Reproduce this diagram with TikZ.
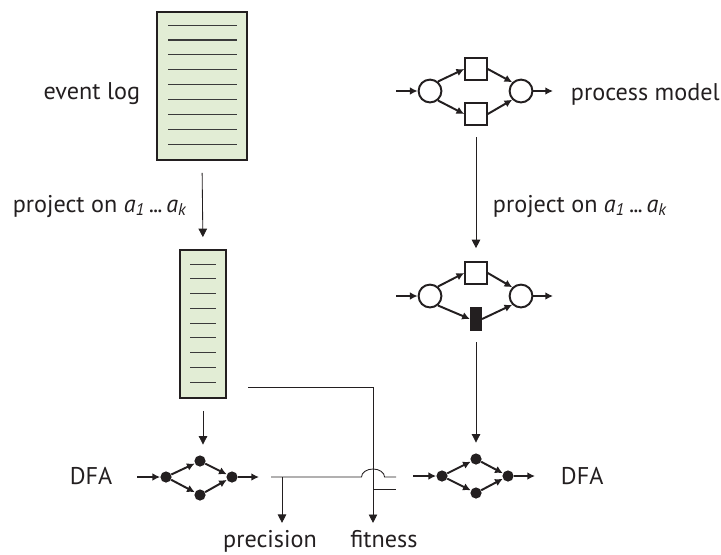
\documentclass[tikz,border=0pt]{standalone}
\usepackage{fontspec}
\setmainfont{PT Sans}
\usetikzlibrary{arrows.meta, calc, positioning}
\definecolor{cink}{HTML}{231F20}
\definecolor{clog}{HTML}{E2EDD5}
\definecolor{crule}{HTML}{3A3A3A}
\newcommand{\projtext}{project on
  \textit{a}\textsubscript{\textit{1}}\hspace{0.16em}.\kern-0.04em.\kern-0.04em.\hspace{0.16em}\textit{a}\textsubscript{\textit{k}}}

\begin{document}
\begin{tikzpicture}[
  x=0.025cm, y=-0.025cm,
  logbox/.style={
    rectangle, draw=cink, fill=clog, line width=1.3pt, inner sep=0pt
  },
  logline/.style={crule, line width=0.8pt},
  place/.style={
    circle, draw=cink, fill=white, line width=1.4pt,
    minimum size=0.57cm, inner sep=0pt
  },
  trans/.style={
    rectangle, draw=cink, fill=white, line width=1.4pt,
    minimum width=0.54cm, minimum height=0.56cm, inner sep=0pt
  },
  silent/.style={
    rectangle, draw=cink, fill=cink, line width=1pt,
    minimum width=0.27cm, minimum height=0.57cm, inner sep=0pt
  },
  state/.style={
    circle, fill=cink, minimum size=0.28cm, inner sep=0pt
  },
  netarrow/.style={
    -{Latex[length=5.5pt, width=5.5pt]}, draw=cink, line width=1.4pt
  },
  flowarrow/.style={
    -{Triangle[length=6pt, width=6pt]}, draw=cink, line width=0.6pt
  },
  thinline/.style={draw=cink, line width=0.6pt},
  lbl/.style={cink, font=\fontsize{17.2}{20}\selectfont, anchor=base}
]

\useasboundingbox (0,0) rectangle (721,554);

% ============================================================
% Left column: event log and its projection
% ============================================================
\node[logbox, minimum width=2.25cm, minimum height=3.7cm] (log) at (202,86) {};
\foreach \i in {1,...,9} {
  \draw[logline] ($(log.north west)+(12,14.875*\i-0.875)$)
    -- ($(log.north east)+(-11,14.875*\i-0.875)$);
}
\node[lbl, anchor=base east] (loglbl) at (145,99) {event log};

\node[logbox, minimum width=1.15cm, minimum height=3.7cm] (slog) at (203,324) {};
\foreach \i in {1,...,9} {
  \draw[logline] ($(slog.north west)+(11,14.75*\i+0.25)$)
    -- ($(slog.north east)+(-11,14.75*\i+0.25)$);
}

\draw[flowarrow, shorten <=8.5pt, shorten >=8.5pt] (log.south) -- (slog.north);
\node[lbl, anchor=base east] (lproj) at (192,212) {\projtext};

% ============================================================
% Right column: process model and its projection
% ============================================================
\node[place] (p1) at (430,91) {};
\node[trans] (t1) at (476,69) {};
\node[trans] (t2) at (476,114) {};
\node[place] (p2) at (521,91) {};
\coordinate (pin) at (396,91);
\coordinate (pout) at (553,91);
\draw[netarrow] (pin) -- (p1);
\draw[netarrow] (p1.50) -- (t1.west);
\draw[netarrow] (p1.-50) -- (t2.west);
\draw[netarrow] (t1.east) -- (p2.135);
\draw[netarrow] (t2.east) -- (p2.-135);
\draw[netarrow] (p2) -- (pout);
\node[lbl, anchor=base west] (modlbl) at (566,100) {process model};

\node[place] (q1) at (430,296) {};
\node[trans] (u1) at (476,273) {};
\node[silent] (u2) at (476,319) {};
\node[place] (q2) at (521,296) {};
\coordinate (qin) at (396,296);
\coordinate (qout) at (553,296);
\draw[netarrow] (qin) -- (q1);
\draw[netarrow] (q1.50) -- (u1.west);
\draw[netarrow] (q1.-50) -- (u2.west);
\draw[netarrow] (u1.east) -- (q2.135);
\draw[netarrow] (u2.east) -- (q2.-135);
\draw[netarrow] (q2) -- (qout);

\draw[flowarrow, shorten <=8pt, shorten >=9pt] (t2.south) -- (u1.north);
\node[lbl, anchor=base west] (rproj) at (488,212) {\projtext};

% ============================================================
% Bottom band: the two DFAs
% ============================================================
\node[state] (a0) at (166,477) {};
\node[state] (a1) at (200,461) {};
\node[state] (a2) at (200,495) {};
\node[state] (a3) at (232,477) {};
\coordinate (ain) at (137,477);
\coordinate (aout) at (259,477);
\draw[netarrow] (ain) -- (a0);
\draw[netarrow] (a0) -- (a1);
\draw[netarrow] (a0) -- (a2);
\draw[netarrow] (a1) -- (a3);
\draw[netarrow] (a2) -- (a3);
\draw[netarrow] (a3) -- (aout);
\node[lbl] (ldfa) at (91,484) {DFA};

\node[state] (b0) at (442,476) {};
\node[state] (b1) at (476,459) {};
\node[state] (b2) at (476,493) {};
\node[state] (b3) at (508,476) {};
\coordinate (bin) at (413,476);
\coordinate (bout) at (535,476);
\draw[netarrow] (bin) -- (b0);
\draw[netarrow] (b0) -- (b1);
\draw[netarrow] (b0) -- (b2);
\draw[netarrow] (b1) -- (b3);
\draw[netarrow] (b2) -- (b3);
\draw[netarrow] (b3) -- (bout);
\node[lbl, anchor=base west] (rdfa) at (556,484) {DFA};

\draw[flowarrow, shorten <=8.5pt, shorten >=7.5pt] (slog.south) -- (slog.south |- a1.north);
\draw[flowarrow, shorten <=8pt, shorten >=7.5pt] (u2.south) -- (b1.north);

% ============================================================
% Comparison: precision and fitness
% ============================================================
\node[lbl] (prec) at (270,547) {precision};
\node[lbl] (fit) at (384,547) {fitness};

\coordinate (fitstart) at (248,387);
\coordinate (fitturn) at (373,387);
\coordinate (fitbranch) at (373,489);
\coordinate (fitend) at (396,489);
\draw[flowarrow] (fitstart) -- (fitturn) -- ($(fit.north -| fitturn)+(0,-2)$);
\draw[thinline] (fitbranch) -- (fitend);

\coordinate (cmpstart) at (271,477);
\coordinate (hopin) at (361.5,477);
\coordinate (cmpend) at (396,477);
\coordinate (precbranch) at (282,477);
\draw[thinline] (cmpstart) -- (hopin)
  arc[start angle=180, end angle=0, x radius=8.2pt, y radius=5.7pt] -- (cmpend);
\draw[flowarrow] (precbranch) -- ($(prec.north -| precbranch)+(0,-2)$);

\end{tikzpicture}
\end{document}
